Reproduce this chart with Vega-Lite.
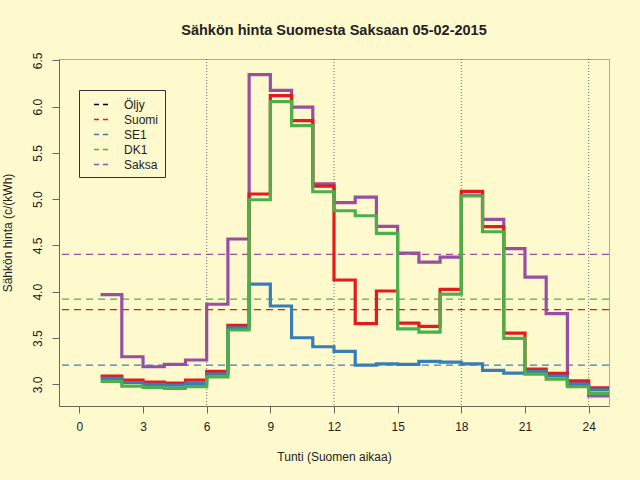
{
  "$schema": "https://vega.github.io/schema/vega-lite/v6.json",
  "width": 550,
  "height": 347,
  "autosize": {"type": "none"},
  "padding": {"left": 59, "top": 59, "right": 31, "bottom": 74},
  "background": "#FFFACD",
  "title": {"text": "Sähkön hinta Suomesta Saksaan 05-02-2015", "fontSize": 14.5, "fontWeight": "bold", "font": "Liberation Sans", "color": "#222222", "anchor": "middle", "baseline": "alphabetic", "offset": 2},
  "config": {
    "view": {"stroke": "#a8a8a8", "strokeWidth": 1},
    "axis": {"grid": false, "labelFont": "Liberation Sans", "titleFont": "Liberation Sans", "labelFontSize": 12, "titleFontSize": 12, "labelColor": "#222222", "titleColor": "#222222", "titleFontWeight": "normal", "domainColor": "#666666", "tickColor": "#666666", "tickSize": 7}
  },
  "datasets": {
    "lines": [
      {"hour": 1, "series": "Suomi", "price": 3.09}, {"hour": 2, "series": "Suomi", "price": 3.046}, {"hour": 3, "series": "Suomi", "price": 3.025}, {"hour": 4, "series": "Suomi", "price": 3.014}, {"hour": 5, "series": "Suomi", "price": 3.046}, {"hour": 6, "series": "Suomi", "price": 3.14}, {"hour": 7, "series": "Suomi", "price": 3.637}, {"hour": 8, "series": "Suomi", "price": 5.056}, {"hour": 9, "series": "Suomi", "price": 6.118}, {"hour": 10, "series": "Suomi", "price": 5.848}, {"hour": 11, "series": "Suomi", "price": 5.14}, {"hour": 12, "series": "Suomi", "price": 4.127}, {"hour": 13, "series": "Suomi", "price": 3.655}, {"hour": 14, "series": "Suomi", "price": 4.008}, {"hour": 15, "series": "Suomi", "price": 3.662}, {"hour": 16, "series": "Suomi", "price": 3.626}, {"hour": 17, "series": "Suomi", "price": 4.026}, {"hour": 18, "series": "Suomi", "price": 5.085}, {"hour": 19, "series": "Suomi", "price": 4.703}, {"hour": 20, "series": "Suomi", "price": 3.554}, {"hour": 21, "series": "Suomi", "price": 3.165}, {"hour": 22, "series": "Suomi", "price": 3.119}, {"hour": 23, "series": "Suomi", "price": 3.039}, {"hour": 24, "series": "Suomi", "price": 2.963}, {"hour": 25, "series": "Suomi", "price": 2.963},
      {"hour": 1, "series": "SE1", "price": 3.065}, {"hour": 2, "series": "SE1", "price": 3.02}, {"hour": 3, "series": "SE1", "price": 3.0}, {"hour": 4, "series": "SE1", "price": 2.99}, {"hour": 5, "series": "SE1", "price": 3.01}, {"hour": 6, "series": "SE1", "price": 3.11}, {"hour": 7, "series": "SE1", "price": 3.61}, {"hour": 8, "series": "SE1", "price": 4.083}, {"hour": 9, "series": "SE1", "price": 3.846}, {"hour": 10, "series": "SE1", "price": 3.503}, {"hour": 11, "series": "SE1", "price": 3.406}, {"hour": 12, "series": "SE1", "price": 3.356}, {"hour": 13, "series": "SE1", "price": 3.208}, {"hour": 14, "series": "SE1", "price": 3.222}, {"hour": 15, "series": "SE1", "price": 3.216}, {"hour": 16, "series": "SE1", "price": 3.248}, {"hour": 17, "series": "SE1", "price": 3.24}, {"hour": 18, "series": "SE1", "price": 3.222}, {"hour": 19, "series": "SE1", "price": 3.151}, {"hour": 20, "series": "SE1", "price": 3.122}, {"hour": 21, "series": "SE1", "price": 3.14}, {"hour": 22, "series": "SE1", "price": 3.09}, {"hour": 23, "series": "SE1", "price": 3.0}, {"hour": 24, "series": "SE1", "price": 2.94}, {"hour": 25, "series": "SE1", "price": 2.94},
      {"hour": 1, "series": "DK1", "price": 3.032}, {"hour": 2, "series": "DK1", "price": 2.98}, {"hour": 3, "series": "DK1", "price": 2.967}, {"hour": 4, "series": "DK1", "price": 2.957}, {"hour": 5, "series": "DK1", "price": 2.975}, {"hour": 6, "series": "DK1", "price": 3.08}, {"hour": 7, "series": "DK1", "price": 3.587}, {"hour": 8, "series": "DK1", "price": 4.994}, {"hour": 9, "series": "DK1", "price": 6.053}, {"hour": 10, "series": "DK1", "price": 5.794}, {"hour": 11, "series": "DK1", "price": 5.08}, {"hour": 12, "series": "DK1", "price": 4.875}, {"hour": 13, "series": "DK1", "price": 4.821}, {"hour": 14, "series": "DK1", "price": 4.631}, {"hour": 15, "series": "DK1", "price": 3.6}, {"hour": 16, "series": "DK1", "price": 3.565}, {"hour": 17, "series": "DK1", "price": 3.975}, {"hour": 18, "series": "DK1", "price": 5.034}, {"hour": 19, "series": "DK1", "price": 4.648}, {"hour": 20, "series": "DK1", "price": 3.497}, {"hour": 21, "series": "DK1", "price": 3.11}, {"hour": 22, "series": "DK1", "price": 3.057}, {"hour": 23, "series": "DK1", "price": 2.974}, {"hour": 24, "series": "DK1", "price": 2.9}, {"hour": 25, "series": "DK1", "price": 2.9},
      {"hour": 1, "series": "Saksa", "price": 3.968}, {"hour": 2, "series": "Saksa", "price": 3.298}, {"hour": 3, "series": "Saksa", "price": 3.19}, {"hour": 4, "series": "Saksa", "price": 3.216}, {"hour": 5, "series": "Saksa", "price": 3.263}, {"hour": 6, "series": "Saksa", "price": 3.865}, {"hour": 7, "series": "Saksa", "price": 4.57}, {"hour": 8, "series": "Saksa", "price": 6.345}, {"hour": 9, "series": "Saksa", "price": 6.176}, {"hour": 10, "series": "Saksa", "price": 5.995}, {"hour": 11, "series": "Saksa", "price": 5.165}, {"hour": 12, "series": "Saksa", "price": 4.963}, {"hour": 13, "series": "Saksa", "price": 5.023}, {"hour": 14, "series": "Saksa", "price": 4.707}, {"hour": 15, "series": "Saksa", "price": 4.418}, {"hour": 16, "series": "Saksa", "price": 4.321}, {"hour": 17, "series": "Saksa", "price": 4.375}, {"hour": 18, "series": "Saksa", "price": 5.04}, {"hour": 19, "series": "Saksa", "price": 4.782}, {"hour": 20, "series": "Saksa", "price": 4.465}, {"hour": 21, "series": "Saksa", "price": 4.159}, {"hour": 22, "series": "Saksa", "price": 3.763}, {"hour": 23, "series": "Saksa", "price": 3.011}, {"hour": 24, "series": "Saksa", "price": 2.874}, {"hour": 25, "series": "Saksa", "price": 2.874}
    ],
    "means": [
      {"series": "Suomi", "price": 3.806},
      {"series": "SE1", "price": 3.208},
      {"series": "DK1", "price": 3.921},
      {"series": "Saksa", "price": 4.404}
    ],
    "vlines": [{"hour": 6}, {"hour": 12}, {"hour": 18}, {"hour": 24}]
  },
  "encoding": {
    "x": {"field": "hour", "type": "quantitative", "scale": {"domain": [-0.96, 24.96], "nice": false, "zero": false}, "axis": {"values": [0, 3, 6, 9, 12, 15, 18, 21, 24], "title": "Tunti (Suomen aikaa)", "labelPadding": 8, "titlePadding": 19}}
  },
  "layer": [
    {
      "data": {"name": "vlines"},
      "mark": {"type": "rule", "color": "#666666", "strokeDash": [1, 2], "strokeWidth": 1},
      "encoding": {}
    },
    {
      "data": {"name": "means"},
      "mark": {"type": "rule", "strokeDash": [7, 5], "strokeWidth": 1.3},
      "encoding": {
        "x": null,
        "y": {"field": "price", "type": "quantitative", "scale": {"domain": [2.766, 6.514], "nice": false, "zero": false}, "axis": {"values": [3, 3.5, 4, 4.5, 5, 5.5, 6, 6.5], "format": ".1f", "title": "Sähkön hinta (c/(kWh)", "labelAngle": -90, "labelPadding": 8, "titlePadding": 17}},
        "color": {"field": "series", "type": "nominal", "scale": {"domain": ["Öljy", "Suomi", "SE1", "DK1", "Saksa"], "range": ["#000000", "#E41A1C", "#377EB8", "#4DAF4A", "#984EA3"]}, "legend": {"title": null, "orient": "none", "legendX": 20, "legendY": 31, "symbolType": "stroke", "symbolSize": 225, "symbolStrokeWidth": 1.5, "symbolDash": [5, 4], "symbolOffset": 8, "labelFont": "Liberation Sans", "labelFontSize": 12, "labelColor": "#222222", "labelOffset": 14, "strokeColor": "#333333", "padding": 6, "rowPadding": 0}}
      }
    },
    {
      "data": {"name": "lines"},
      "transform": [{"filter": "datum.series === 'Saksa'"}],
      "mark": {"type": "line", "interpolate": "step-after", "strokeWidth": 3.2, "clip": true},
      "encoding": {"y": {"field": "price", "type": "quantitative"}, "color": {"field": "series", "type": "nominal"}}
    },
    {
      "data": {"name": "lines"},
      "transform": [{"filter": "datum.series === 'Suomi'"}],
      "mark": {"type": "line", "interpolate": "step-after", "strokeWidth": 3.2, "clip": true},
      "encoding": {"y": {"field": "price", "type": "quantitative"}, "color": {"field": "series", "type": "nominal"}}
    },
    {
      "data": {"name": "lines"},
      "transform": [{"filter": "datum.series === 'SE1'"}],
      "mark": {"type": "line", "interpolate": "step-after", "strokeWidth": 3.2, "clip": true},
      "encoding": {"y": {"field": "price", "type": "quantitative"}, "color": {"field": "series", "type": "nominal"}}
    },
    {
      "data": {"name": "lines"},
      "transform": [{"filter": "datum.series === 'DK1'"}],
      "mark": {"type": "line", "interpolate": "step-after", "strokeWidth": 3.2, "clip": true},
      "encoding": {"y": {"field": "price", "type": "quantitative"}, "color": {"field": "series", "type": "nominal"}}
    }
  ]
}
